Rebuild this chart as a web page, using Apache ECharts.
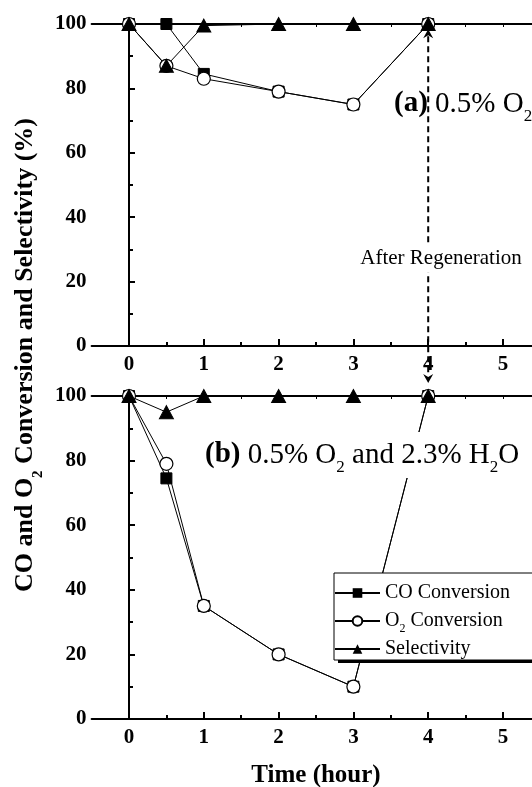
<!DOCTYPE html>
<html>
<head>
<meta charset="utf-8">
<script src="https://cdn.jsdelivr.net/npm/echarts@6/dist/echarts.min.js"></script>
<style>
html,body{margin:0;padding:0;background:#fff;}
#c{width:532px;height:787px;}
</style>
</head>
<body>
<div id="c"></div>
<script>
// ---------- data ----------
const timeH = [0, 0.5, 1, 2, 3, 4];
// panel (a): 0.5% O2
const coA  = [100, 100, 84.5, 79, 75, 100];
const o2A  = [100, 87, 83, 79, 75, 100];
const selA = [100, 87, 99.5, 100, 100, 100];
// panel (b): 0.5% O2 and 2.3% H2O
const coB  = [100, 74.5, 35, 20, 10, 100];
const o2B  = [100, 79, 35, 20, 10, 100];
const selB = [100, 95, 100, 100, 100, 100];
// ticks
const xTickLabels = [0, 1, 2, 3, 4, 5];
const xMinorTicks = [0.5, 1.5, 2.5, 3.5, 4.5];
const xTopTicks = [0, 0.5, 1, 1.5, 2, 2.5, 3, 3.5, 4, 4.5, 5];
const yTickLabels = [0, 20, 40, 60, 80, 100];
const seriesNames = ['CO Conversion', 'O2 Conversion', 'Selectivity'];
// regeneration arrow (time, value at top in panel a, value at bottom in panel b)
const arrowTime = 4, arrowTopVal = 98.4, arrowBottomVal = 104;

const FF = 'Liberation Serif';
const pairs = (ys) => timeH.map((t, i) => [t, ys[i]]);

function xAxes(gi, withName) {
  return [
    {
      type: 'value', gridIndex: gi, min: -0.5, max: 5.5, position: 'bottom',
      axisLine: { show: true, onZero: false, lineStyle: { color: '#000', width: 2 } },
      axisTick: { show: true, inside: true, length: 7, customValues: xTickLabels, lineStyle: { color: '#000', width: 2 } },
      axisLabel: { show: true, customValues: xTickLabels, margin: 8, color: '#000', fontFamily: FF, fontWeight: 'bold', fontSize: 21 },
      splitLine: { show: false },
      name: withName ? 'Time (hour)' : '',
      nameLocation: 'middle', nameGap: 44,
      nameTextStyle: { color: '#000', fontFamily: FF, fontWeight: 'bold', fontSize: 25 }
    },
    {
      type: 'value', gridIndex: gi, min: -0.5, max: 5.5, position: 'bottom',
      axisLine: { show: false, onZero: false },
      axisTick: { show: true, inside: true, length: 4, customValues: xMinorTicks, lineStyle: { color: '#000', width: 2 } },
      axisLabel: { show: false },
      splitLine: { show: false }
    },
    {
      type: 'value', gridIndex: gi, min: -0.5, max: 5.5, position: 'top',
      axisLine: { show: true, onZero: false, lineStyle: { color: '#000', width: 2 } },
      axisTick: { show: true, inside: true, length: 3, customValues: xTopTicks, lineStyle: { color: '#000', width: 1 } },
      axisLabel: { show: false },
      splitLine: { show: false }
    }
  ];
}

function yAxis(gi) {
  return {
    type: 'value', gridIndex: gi, min: 0, max: 100, interval: 20,
    axisLine: { show: true, lineStyle: { color: '#000', width: 2 } },
    axisTick: { show: true, inside: true, length: 6, lineStyle: { color: '#000', width: 2 } },
    minorTick: { show: true, splitNumber: 2, length: 4, lineStyle: { color: '#000', width: 2 } },
    axisLabel: { margin: 5, color: '#000', fontFamily: FF, fontWeight: 'bold', fontSize: 21 },
    splitLine: { show: false }
  };
}

function seriesFor(gi, co, o2, sel) {
  const base = { type: 'line', xAxisIndex: gi * 3, yAxisIndex: gi, lineStyle: { color: '#000', width: 1 }, animation: false };
  return [
    Object.assign({}, base, { name: seriesNames[0], data: pairs(co), symbol: 'rect', symbolSize: 11,
      itemStyle: { color: '#000', borderColor: '#000' } }),
    Object.assign({}, base, { name: seriesNames[1], data: pairs(o2), symbol: 'circle', symbolSize: 13,
      itemStyle: { color: '#fff', borderColor: '#000', borderWidth: 1.2 } }),
    Object.assign({}, base, { name: seriesNames[2], data: pairs(sel), symbol: 'triangle', symbolSize: [14, 13],
      itemStyle: { color: '#000', borderColor: '#000' } })
  ];
}

const option = {
  backgroundColor: '#fff',
  animation: false,
  grid: [
    { left: 91.6, width: 448.8, top: 24, height: 322, outerBoundsMode: 'none', containLabel: false },
    { left: 91.6, width: 448.8, top: 396, height: 323, outerBoundsMode: 'none', containLabel: false }
  ],
  xAxis: xAxes(0, false).concat(xAxes(1, true)),
  yAxis: [yAxis(0), yAxis(1)],
  legend: {
    data: seriesNames,
    orient: 'vertical',
    left: 334, top: 573,
    padding: [10, 40, 1, 0],
    itemGap: 4,
    itemWidth: 45, itemHeight: 12,
    selectedMode: false,
    backgroundColor: '#fff',
    borderColor: '#000', borderWidth: 1,
    z: 6,
    formatter: function (n) {
      if (n === 'O2 Conversion') return '{n|O}{s|2}{n| Conversion}';
      return '{n|' + n + '}';
    },
    textStyle: {
      color: '#000', fontFamily: FF, fontSize: 20, lineHeight: 20,
      rich: {
        n: { color: '#000', fontFamily: FF, fontSize: 20, lineHeight: 20 },
        s: { color: '#000', fontFamily: FF, fontSize: 12, lineHeight: 12, padding: [16, 0, 0, 0] }
      }
    }
  },
  series: seriesFor(0, coA, o2A, selA).concat(seriesFor(1, coB, o2B, selB))
};

const chart = echarts.init(document.getElementById('c'), null, { renderer: 'canvas' });
chart.setOption(option);

const pT = chart.convertToPixel({ xAxisIndex: 0, yAxisIndex: 0 }, [arrowTime, arrowTopVal]);
const pB = chart.convertToPixel({ xAxisIndex: 3, yAxisIndex: 1 }, [arrowTime, arrowBottomVal]);
const ax = pT[0], ty = pT[1], by = pB[1];

chart.setOption({
  graphic: [
    // y-axis title
    {
      type: 'text', x: 25, y: 355, rotation: Math.PI / 2, z: 10,
      style: {
        text: '{b|CO and O}{s|2}{b| Conversion and Selectivity (%)}',
        align: 'center', verticalAlign: 'middle',
        rich: {
          b: { fontFamily: FF, fontWeight: 'bold', fontSize: 26, fill: '#000' },
          s: { fontFamily: FF, fontWeight: 'bold', fontSize: 15, fill: '#000', padding: [27, 0, 0, 0] }
        }
      }
    },
    // legend shadow
    {
      type: 'rect', z: 5,
      shape: { x: 338, y: 577, width: 220, height: 86 },
      style: { fill: '#000' }
    },
    // regeneration dashed arrow
    {
      type: 'line', z: 5,
      shape: { x1: ax, y1: ty + 7, x2: ax, y2: by - 7 },
      style: { stroke: '#000', lineWidth: 2, lineDash: [6, 4] }
    },
    {
      type: 'polygon', z: 5,
      shape: { points: [[ax, ty], [ax + 5, ty + 9], [ax, ty + 6], [ax - 5, ty + 9]] },
      style: { fill: '#000' }
    },
    {
      type: 'polygon', z: 5,
      shape: { points: [[ax, by], [ax + 5, by - 9], [ax, by - 6], [ax - 5, by - 9]] },
      style: { fill: '#000' }
    },
    {
      type: 'text', x: 441, y: 258, z: 6,
      style: {
        text: 'After Regeneration', align: 'center', verticalAlign: 'middle',
        fontFamily: FF, fontSize: 21, fill: '#000',
        backgroundColor: '#fff', padding: [4, 2, 4, 2]
      }
    },
    // panel labels
    {
      type: 'text', x: 394, y: 104, z: 6,
      style: {
        text: '{b|(a)}{n| 0.5% O}{s|2}',
        align: 'left', verticalAlign: 'middle',
        rich: {
          b: { fontFamily: FF, fontWeight: 'bold', fontSize: 29, fill: '#000' },
          n: { fontFamily: FF, fontSize: 29, fill: '#000' },
          s: { fontFamily: FF, fontSize: 17, fill: '#000', padding: [25, 0, 0, 0] }
        }
      }
    },
    {
      type: 'text', x: 203, y: 455, z: 6,
      style: {
        text: '{b|(b)}{n| 0.5% O}{s|2}{n| and 2.3% H}{s|2}{n|O}',
        align: 'left', verticalAlign: 'middle',
        backgroundColor: '#fff', padding: [2, 2, 2, 2],
        rich: {
          b: { fontFamily: FF, fontWeight: 'bold', fontSize: 29, fill: '#000' },
          n: { fontFamily: FF, fontSize: 29, fill: '#000' },
          s: { fontFamily: FF, fontSize: 17, fill: '#000', padding: [25, 0, 0, 0] }
        }
      }
    }
  ]
});
</script>
</body>
</html>
